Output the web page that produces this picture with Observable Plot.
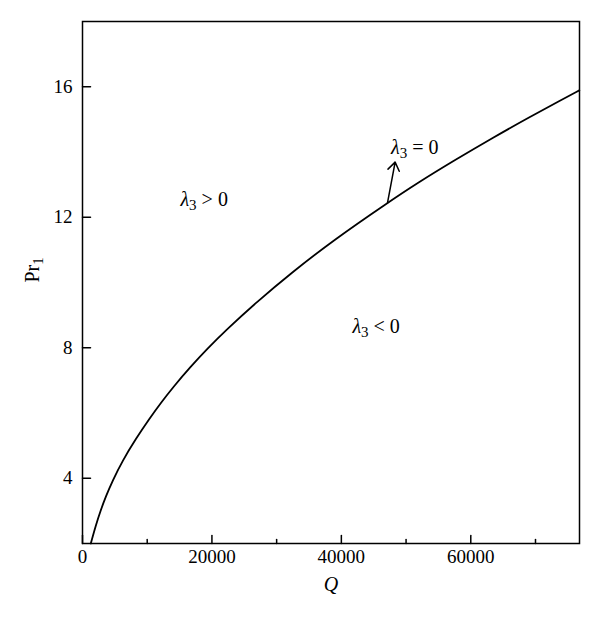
<!DOCTYPE html>
<html><head><meta charset="utf-8">
<script src="https://cdn.jsdelivr.net/npm/d3@7"></script>
<script src="https://cdn.jsdelivr.net/npm/@observablehq/plot@0.6"></script>
<style>body{margin:0;background:#fff} svg{display:block}</style>
</head><body><div id="chart"></div>
<script>
const qValues  = [1280, 2060, 2830, 3600, 4640, 6190, 8250, 10320, 12110, 14120, 16710, 19290, 22120, 27020, 32170, 38870, 47130, 51770, 57430, 63620, 68790, 73940, 76770];
const prValues = [2.00, 2.56, 3.03, 3.44, 3.92, 4.54, 5.21, 5.82, 6.31, 6.82, 7.42, 7.97, 8.53, 9.42, 10.28, 11.31, 12.44, 13.05, 13.74, 14.46, 15.04, 15.59, 15.89];
const xTicks = [0, 20000, 40000, 60000];
const xMinorTicks = [10000, 30000, 50000, 70000];
const yTicks = [4, 8, 12, 16];
const regionLabels = ["λ₃ > 0", "λ₃ = 0", "λ₃ < 0"];
const labelQ  = [18800, 51350, 45370];
const labelPr = [12.55, 14.14, 8.66];
const arrowQ  = [47130, 48310];
const arrowPr = [12.44, 13.69];
const xTitle = "Q";
const yTitle = "Pr₁";

const curve = qValues.map((q, i) => ({q, pr: prValues[i]}));
const labels = regionLabels.map((t, i) => ({t, q: labelQ[i], pr: labelPr[i]}));
const arrowData = [{x1: arrowQ[0], y1: arrowPr[0], x2: arrowQ[1], y2: arrowPr[1]}];
const tickShape = {draw(ctx, l) { ctx.moveTo(0, 0); ctx.lineTo(0, -l); }};
const xMin = 0, yMin = 2;

const svg = Plot.plot({
  width: 600, height: 620,
  marginLeft: 82, marginRight: 21, marginTop: 21, marginBottom: 77,
  style: {fontFamily: "'Liberation Serif', serif", background: "#fff", color: "#000"},
  x: {domain: [0, 76800]},
  y: {domain: [2, 18]},
  marks: [
    Plot.frame({stroke: "#000", strokeWidth: 1.5}),
    Plot.axisX(xTicks, {tickSize: 0, tickPadding: 6, fontSize: 19, tickFormat: d => String(d), label: null}),
    Plot.axisY(yTicks, {tickSize: 0, tickPadding: 10, fontSize: 19, tickFormat: d => String(d), label: null}),
    Plot.vector(xTicks, {x: d => d, y: () => yMin, rotate: 0, length: 8, anchor: "start", shape: tickShape, stroke: "#000", strokeWidth: 1.5}),
    Plot.vector(xMinorTicks, {x: d => d, y: () => yMin, rotate: 0, length: 4, anchor: "start", shape: tickShape, stroke: "#000", strokeWidth: 1.5}),
    Plot.vector(yTicks, {x: () => xMin, y: d => d, rotate: 90, length: 8, anchor: "start", shape: tickShape, stroke: "#000", strokeWidth: 1.5}),
    Plot.line(curve, {x: "q", y: "pr", curve: "basis", stroke: "#000", strokeWidth: 1.8}),
    Plot.arrow(arrowData, {x1: "x1", y1: "y1", x2: "x2", y2: "y2", headLength: 10, headAngle: 70, stroke: "#000", strokeWidth: 1.5}),
    Plot.text(labels, {x: "q", y: "pr", text: "t", fontSize: 20, fill: "#000"}),
    Plot.text([xTitle], {frameAnchor: "bottom", dy: 47, fontSize: 20, fontStyle: "italic", fill: "#000"}),
    Plot.text([yTitle], {frameAnchor: "left", dx: -50, rotate: -90, fontSize: 20, fill: "#000"})
  ]
});

// Rebuild subscripted labels with tspans (italic lambda, lowered subscript digit)
const subMap = {"₀":"0","₁":"1","₂":"2","₃":"3","₄":"4"};
svg.querySelectorAll("text").forEach(t => {
  const s = t.textContent;
  const m = s.match(/^(.*?)([₀-₄])(.*)$/);
  if (!m) return;
  const ns = "http://www.w3.org/2000/svg";
  while (t.firstChild) t.removeChild(t.firstChild);
  const a = document.createElementNS(ns, "tspan");
  a.textContent = m[1];
  if (m[1] === "λ") a.setAttribute("font-style", "italic");
  const b = document.createElementNS(ns, "tspan");
  b.textContent = subMap[m[2]];
  b.setAttribute("font-size", "0.75em");
  b.setAttribute("dy", "0.3em");
  t.appendChild(a); t.appendChild(b);
  if (m[3]) {
    const c = document.createElementNS(ns, "tspan");
    c.textContent = m[3].replace(/ /g, "\u00a0");
    c.setAttribute("dy", "-0.225em");
    t.appendChild(c);
  }
});
document.getElementById("chart").appendChild(svg);
</script>
</body></html>
